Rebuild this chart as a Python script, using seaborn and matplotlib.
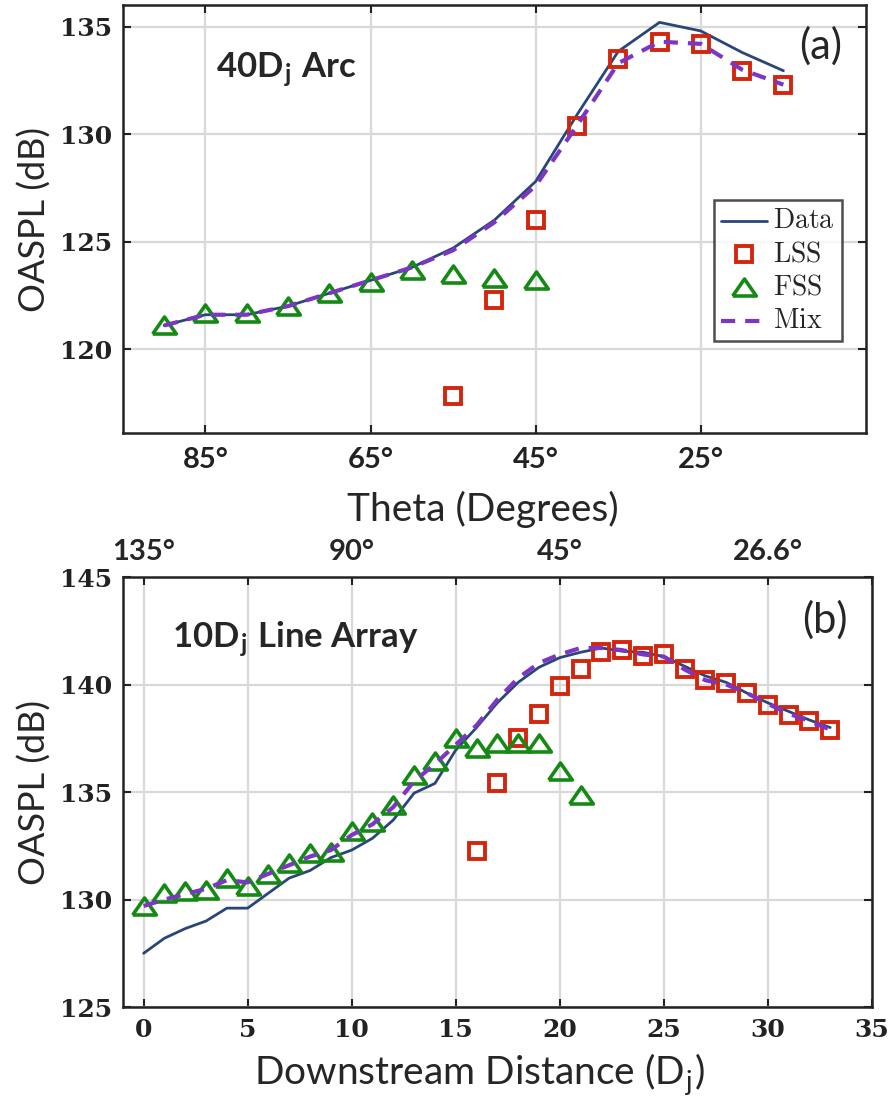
import matplotlib
matplotlib.use("Agg")
import matplotlib.pyplot as plt
import seaborn as sns
import pandas as pd
from matplotlib.ticker import FixedLocator, FixedFormatter

# ---------------- Panel (a): 40Dj arc ----------------
theta_arc = [90, 85, 80, 75, 70, 65, 60, 55, 50, 45, 40, 35, 30, 25, 20, 15]
data_arc = [121.1, 121.6, 121.6, 122.0, 122.6, 123.2, 123.8, 124.7, 126.0, 127.8,
            130.9, 133.85, 135.2, 134.8, 133.8, 132.95]
mix_arc = [121.1, 121.6, 121.6, 122.0, 122.6, 123.2, 123.8, 124.6, 125.9, 127.6,
           130.4, 133.3, 134.3, 134.2, 133.0, 132.3]
fss_theta_arc = [90, 85, 80, 75, 70, 65, 60, 55, 50, 45]
fss_arc = [121.1, 121.7, 121.7, 122.0, 122.6, 123.1, 123.7, 123.5, 123.3, 123.2]
lss_theta_arc = [55, 50, 45, 40, 35, 30, 25, 20, 15]
lss_arc = [117.8, 122.3, 126.0, 130.4, 133.5, 134.3, 134.2, 132.95, 132.3]

# ---------------- Panel (b): 10Dj line array ----------------
dist_line = list(range(0, 34))
data_line = [127.5, 128.2, 128.65, 129.0, 129.6, 129.6, 130.3, 131.0, 131.35, 131.95,
             132.3, 132.85, 133.7, 134.95, 135.4, 136.95, 138.0, 139.15, 140.1, 140.8,
             141.25, 141.5, 141.7, 141.55, 141.5, 141.3, 140.85, 140.4, 140.1, 139.6,
             139.15, 138.75, 138.35, 138.0]
mix_line = [129.7, 130.0, 130.25, 130.5, 130.9, 130.8, 131.2, 131.6, 132.0, 132.3,
            133.0, 133.5, 134.3, 135.5, 136.3, 137.2, 138.1, 139.3, 140.3, 141.0,
            141.4, 141.7, 141.7, 141.6, 141.4, 141.3, 140.7, 140.2, 140.0, 139.6,
            139.1, 138.65, 138.3, 137.9]
fss_dist = list(range(0, 22))
fss_line = [129.7, 130.3, 130.4, 130.45, 131.0, 130.65, 131.2, 131.7, 132.15, 132.2,
            133.2, 133.6, 134.4, 135.8, 136.45, 137.5, 137.05, 137.3, 137.3, 137.3,
            136.0, 134.85]
lss_dist = list(range(16, 34))
lss_line = [132.25, 135.4, 137.5, 138.65, 139.95, 140.7, 141.5, 141.6, 141.35, 141.4,
            140.7, 140.2, 140.05, 139.6, 139.05, 138.6, 138.3, 137.9]

# tick labels
arc_xticks = [85, 65, 45, 25]
arc_xticklabels = ["85°", "65°", "45°", "25°"]
arc_yticks = [120, 125, 130, 135]
line_xticks = [0, 5, 10, 15, 20, 25, 30, 35]
line_yticks = [125, 130, 135, 140, 145]
angle_ticks = [0, 10, 20, 30]
angle_labels = ["135°", "90°", "45°", "26.6°"]

series_names = ["Data", "LSS", "FSS", "Mix"]

# ---------------- styling ----------------
sns.set_style("ticks")
plt.rcParams["font.family"] = ["Lato", "DejaVu Sans"]
plt.rcParams["mathtext.fontset"] = "cm"

C_DATA = "#2A4679"
C_LSS = "#D3260E"
C_FSS = "#148A14"
C_MIX = "#7B36C4"
GRID = "#D9D9D9"
SERIF_BOLD = {"family": "DejaVu Serif", "weight": "bold", "size": 18}

fig = plt.figure(figsize=(8.9, 10.97), dpi=100)
ax1 = fig.add_axes([0.138, 0.6053, 0.835, 0.390])
ax2 = fig.add_axes([0.138, 0.0820, 0.8416, 0.392])

tri = [(-1.0, -0.72), (1.0, -0.72), (0.0, 0.72), (-1.0, -0.72)]


def draw(ax, xd, yd, xm, ym, xl, yl, xf, yf):
    sns.lineplot(x=xd, y=yd, ax=ax, color=C_DATA, lw=2.0, sort=False,
                 estimator=None, label=series_names[0], zorder=3)
    sns.lineplot(x=xl, y=yl, ax=ax, color=C_LSS, linestyle="", marker="s",
                 markersize=11, markerfacecolor="none", markeredgecolor=C_LSS,
                 markeredgewidth=2.8, sort=False, estimator=None,
                 label=series_names[1], zorder=4)
    sns.lineplot(x=xf, y=yf, ax=ax, color=C_FSS, linestyle="", marker=tri,
                 markersize=17, markerfacecolor="none", markeredgecolor=C_FSS,
                 markeredgewidth=2.6, sort=False, estimator=None,
                 label=series_names[2], zorder=4)
    sns.lineplot(x=xm, y=ym, ax=ax, color=C_MIX, lw=3.0, dashes=(3.4, 2.4),
                 sort=False, estimator=None, label=series_names[3], zorder=5)


draw(ax1, theta_arc, data_arc, theta_arc, mix_arc,
     lss_theta_arc, lss_arc, fss_theta_arc, fss_arc)
draw(ax2, dist_line, data_line, dist_line, mix_line,
     lss_dist, lss_line, fss_dist, fss_line)

for ax in (ax1, ax2):
    ax.grid(True, color=GRID, lw=1.6, zorder=0)
    ax.set_axisbelow(True)
    for s in ax.spines.values():
        s.set_linewidth(1.8)
        s.set_color("#222222")
        s.set_visible(True)
    ax.tick_params(direction="in", length=6, width=1.5, top=True, right=True,
                   colors="#222222")

# axis (a)
ax1.set_xlim(95, 5)
ax1.set_ylim(116.1, 136.0)
ax1.xaxis.set_major_locator(FixedLocator(arc_xticks))
ax1.xaxis.set_major_formatter(FixedFormatter(arc_xticklabels))
ax1.yaxis.set_major_locator(FixedLocator(arc_yticks))
ax1.yaxis.set_major_formatter(FixedFormatter([str(v) for v in arc_yticks]))
for t in ax1.get_xticklabels():
    t.set_fontweight("bold")
    t.set_fontsize(21)
for t in ax1.get_yticklabels():
    t.set_fontproperties(SERIF_BOLD)
ax1.tick_params(axis="x", pad=10)
ax1.tick_params(axis="y", pad=8)
ax1.set_xlabel("Theta (Degrees)", fontsize=28)
ax1.xaxis.set_label_coords(0.485, -0.135)
ax1.set_ylabel("OASPL (dB)", fontsize=26, labelpad=6)
ax1.text(0.125, 0.85, r"40D$_{\mathregular{j}}$ Arc", transform=ax1.transAxes,
         fontsize=25, fontweight="bold", ha="left", va="center")
ax1.text(0.968, 0.905, "(a)", transform=ax1.transAxes, fontsize=30,
         ha="right", va="center")
leg = ax1.legend(loc="upper right", bbox_to_anchor=(0.968, 0.545),
                 prop={"family": "DejaVu Serif", "size": 15},
                 frameon=True, fancybox=False, edgecolor="#222222",
                 handlelength=2.2, handletextpad=0.3, labelspacing=0.3,
                 borderpad=0.35, borderaxespad=0.0)
leg.get_frame().set_linewidth(1.8)
for t, name in zip(leg.get_texts(), series_names):
    t.set_text(r"$\mathrm{%s}$" % name)
    t.set_fontsize(20)

# axis (b)
ax2.set_xlim(-1, 35)
ax2.set_ylim(125, 145)
ax2.xaxis.set_major_locator(FixedLocator(line_xticks))
ax2.xaxis.set_major_formatter(FixedFormatter([str(v) for v in line_xticks]))
ax2.yaxis.set_major_locator(FixedLocator(line_yticks))
ax2.yaxis.set_major_formatter(FixedFormatter([str(v) for v in line_yticks]))
for t in ax2.get_xticklabels() + ax2.get_yticklabels():
    t.set_fontproperties(SERIF_BOLD)
ax2.tick_params(axis="x", pad=8)
ax2.tick_params(axis="y", pad=8)
ax2.set_xlabel(r"Downstream Distance (D$_{\mathregular{j}}$)", fontsize=28)
ax2.xaxis.set_label_coords(0.477, -0.104)
ax2.set_ylabel("OASPL (dB)", fontsize=26, labelpad=6)
ax2.get_legend().remove()
sec = ax2.secondary_xaxis("top")
sec.xaxis.set_major_locator(FixedLocator(angle_ticks))
sec.xaxis.set_major_formatter(FixedFormatter(angle_labels))
sec.tick_params(length=0, pad=9)
for t in sec.get_xticklabels():
    t.set_fontweight("bold")
    t.set_fontsize(21)
sec.spines["top"].set_visible(False)
ax2.text(0.968, 0.90, "(b)", transform=ax2.transAxes, fontsize=30,
         ha="right", va="center")
ax2.text(0.065, 0.855, r"10D$_{\mathregular{j}}$ Line Array", transform=ax2.transAxes,
         fontsize=25, fontweight="bold", ha="left", va="center")

fig.savefig("out.png", dpi=100)
